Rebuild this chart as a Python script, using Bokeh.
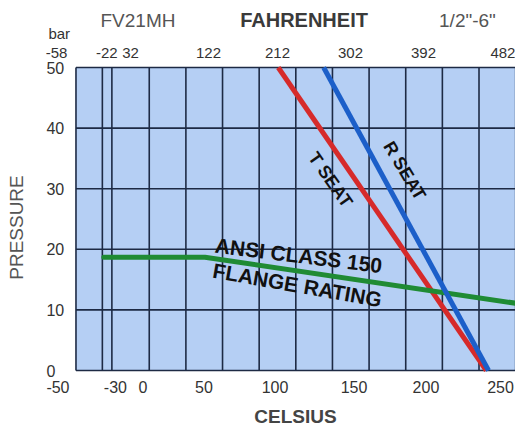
import math
from bokeh.plotting import figure
from bokeh.models import Range1d
from bokeh.embed import file_html
from bokeh.resources import INLINE
from bokeh.core.properties import value

# ---------------- data ----------------
pressure_ticks = [0, 10, 20, 30, 40, 50]                     # bar
celsius_labels = ["-50", "-30", "0", "50", "100", "150", "200", "250"]
fahrenheit_labels = ["-58", "-22", "32", "122", "212", "302", "392", "482"]
grid_c = [-50, -32, -25.5, 0, 25, 50, 75, 100, 125, 150, 175, 200, 225, 250]

t_seat_c = [88, 230]
t_seat_bar = [50, 0]
r_seat_c = [119, 231.5]
r_seat_bar = [50, 0]
ansi_c = [-31, 38, 250]
ansi_bar = [18.7, 18.7, 11.1]

# ---------------- layout (label centres in °C / bar) ----------------
c_label_pos = [-62.3, -23.1, -4.3, 37.3, 85.8, 139.7, 188.8, 239.7]
f_label_pos = [-63.3, -29.0, -12.8, 40.4, 87.5, 137.3, 187.1, 241.3]
C_ROW = -2.64     # celsius tick-label row
F_ROW = 52.4      # fahrenheit tick-label row
Y_LAB_X = -70.15  # pressure tick-label column

FONT = value("Liberation Sans")
BG = "#b5cff4"
GRID = "#1d2a44"

p = figure(width=515, height=430,
           x_range=Range1d(-101.5, 249.9), y_range=Range1d(-9.90, 61.06),
           output_backend="svg", toolbar_location=None,
           x_axis_location=None, y_axis_location=None,
           min_border=0, min_border_left=0, min_border_right=0,
           min_border_top=0, min_border_bottom=0)
p.grid.visible = False
p.outline_line_color = None
p.background_fill_color = "white"
p.border_fill_color = "white"

# chart area
p.quad(left=grid_c[0], right=grid_c[-1], bottom=pressure_ticks[0], top=pressure_ticks[-1],
       fill_color=BG, line_color=None)
p.segment(x0=grid_c, y0=[pressure_ticks[0]] * len(grid_c), x1=grid_c,
          y1=[pressure_ticks[-1]] * len(grid_c), line_color=GRID, line_width=1.6)
p.segment(x0=[grid_c[0]] * len(pressure_ticks), y0=pressure_ticks,
          x1=[grid_c[-1]] * len(pressure_ticks), y1=pressure_ticks,
          line_color=GRID, line_width=1.6)

# curves
p.line(t_seat_c, t_seat_bar, line_color="#d62a2a", line_width=5)
p.line(ansi_c, ansi_bar, line_color="#1f8b34", line_width=5, line_cap="round", line_join="round")
p.line(r_seat_c, r_seat_bar, line_color="#1c5fc9", line_width=5)


def txt(x, y, text, size, style="normal", color="#111111", angle=0.0,
        align="center", baseline="middle"):
    p.text(x=x, y=y, text=text, angle=angle, text_align=align, text_baseline=baseline,
           text_font=FONT, text_font_style=style, text_font_size=size, text_color=color)


# in-chart annotations
txt([123.6], [31.5], ["T SEAT"], "18px", "bold", angle=-math.radians(55))
txt([174.2], [33.0], ["R SEAT"], "18px", "bold", angle=-math.radians(59))
txt([101.9], [19.0], ["ANSI CLASS 150"], "21px", "bold", angle=-math.radians(7))
txt([101.1], [14.1], ["FLANGE RATING"], "21px", "bold", angle=-math.radians(10))

# tick labels
txt([Y_LAB_X] * len(pressure_ticks), pressure_ticks, [str(v) for v in pressure_ticks],
    "16px", color="#333333", align="left")
txt(c_label_pos, [C_ROW] * len(c_label_pos), celsius_labels, "16px", color="#333333")
txt(f_label_pos, [F_ROW] * len(f_label_pos), fahrenheit_labels, "15px", color="#333333")

# headers and axis titles
txt([-68.8], [55.6], ["bar"], "15px", color="#333333", align="left")
txt([-7.7], [57.76], ["FV21MH"], "19px", color="#555555")
txt([105.6], [57.76], ["FAHRENHEIT"], "20px", "bold", color="#3a3a3a")
txt([217.1], [57.76], ["1/2\"-6\""], "19px", color="#555555")
txt([99.8], [-7.55], ["CELSIUS"], "19px", "bold", color="#444444")
txt([-90.6], [23.6], ["PRESSURE"], "19px", color="#555555", angle=math.pi / 2)

open("out.html", "w").write(file_html(p, INLINE))
